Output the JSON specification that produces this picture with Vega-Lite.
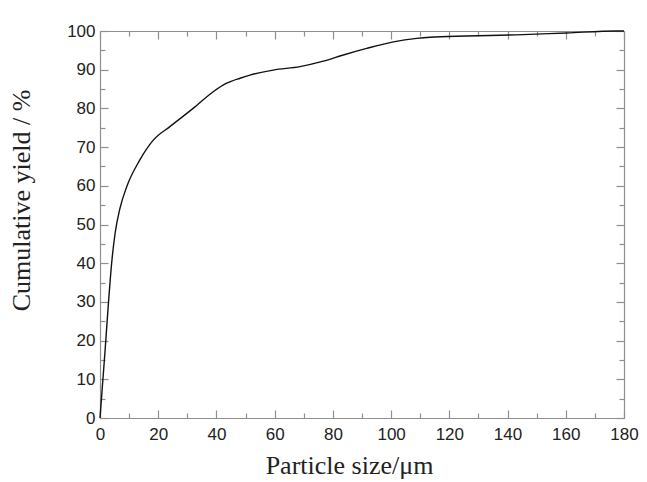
{
  "$schema": "https://vega.github.io/schema/vega-lite/v6.json",
  "width": 524,
  "height": 387,
  "autosize": {"type": "none"},
  "padding": {"left": 100, "top": 31, "right": 23, "bottom": 64},
  "background": "white",
  "config": {
    "view": {"stroke": null},
    "axis": {
      "domainColor": "#8f8f8f",
      "domainWidth": 1.2,
      "tickColor": "#8f8f8f",
      "tickWidth": 1.2,
      "grid": false,
      "labelFont": "Liberation Sans",
      "labelFontSize": 17,
      "labelColor": "#222222",
      "titleFont": "Liberation Serif",
      "titleFontSize": 26,
      "titleFontWeight": "normal",
      "titleColor": "#222222"
    }
  },
  "data": {
    "values": [
      {"size": 0, "yield": 0},
      {"size": 0.8, "yield": 8},
      {"size": 1.7, "yield": 17},
      {"size": 2.9, "yield": 29.7},
      {"size": 4.0, "yield": 40},
      {"size": 5.2, "yield": 47.8},
      {"size": 6.9, "yield": 54.3},
      {"size": 9.2, "yield": 59.8},
      {"size": 13.7, "yield": 66.7},
      {"size": 18.3, "yield": 71.8},
      {"size": 24, "yield": 75.3},
      {"size": 32, "yield": 80},
      {"size": 38.9, "yield": 84.3},
      {"size": 43.5, "yield": 86.5},
      {"size": 48.1, "yield": 87.8},
      {"size": 51.5, "yield": 88.6},
      {"size": 59.5, "yield": 89.9},
      {"size": 68.7, "yield": 90.8},
      {"size": 76.7, "yield": 92.2},
      {"size": 83.6, "yield": 93.8},
      {"size": 91.6, "yield": 95.5},
      {"size": 100.8, "yield": 97.2},
      {"size": 108.8, "yield": 98.1},
      {"size": 113.4, "yield": 98.4},
      {"size": 126, "yield": 98.7},
      {"size": 143, "yield": 99},
      {"size": 160.3, "yield": 99.5},
      {"size": 177.5, "yield": 100},
      {"size": 180, "yield": 100}
    ]
  },
  "layer": [
    {
      "mark": {"type": "line", "color": "#111111", "strokeWidth": 1.4, "interpolate": "monotone", "clip": false},
      "encoding": {
        "x": {
          "field": "size", "type": "quantitative",
          "scale": {"domain": [0, 180], "nice": false, "zero": false},
          "axis": {
            "orient": "bottom",
            "title": "Particle size/μm",
            "titleX": 249,
            "values": [0, 10, 20, 30, 40, 50, 60, 70, 80, 90, 100, 110, 120, 130, 140, 150, 160, 170, 180],
            "labelExpr": "datum.value % 20 === 0 ? datum.label : ''",
            "tickSize": {"condition": {"test": "datum.value % 20 === 0", "value": -8}, "value": -5},
            "labelPadding": 16,
            "labelFlush": false,
            "labelOverlap": false,
            "titlePadding": 7
          }
        },
        "y": {
          "field": "yield", "type": "quantitative",
          "scale": {"domain": [0, 100], "nice": false, "zero": false},
          "axis": {
            "orient": "left",
            "title": "Cumulative yield / %",
            "titleY": 169,
            "values": [0, 5, 10, 15, 20, 25, 30, 35, 40, 45, 50, 55, 60, 65, 70, 75, 80, 85, 90, 95, 100],
            "labelExpr": "datum.value % 10 === 0 ? datum.label : ''",
            "tickSize": {"condition": {"test": "datum.value % 10 === 0", "value": -8}, "value": -5},
            "labelPadding": 13,
            "labelFlush": false,
            "labelOverlap": false,
            "titlePadding": 32
          }
        }
      }
    },
    {
      "mark": {"type": "line", "opacity": 0},
      "encoding": {
        "x": {
          "field": "size", "type": "quantitative",
          "scale": {"domain": [0, 180], "nice": false, "zero": false},
          "axis": {
            "orient": "top",
            "title": null,
            "labels": false,
            "values": [0, 10, 20, 30, 40, 50, 60, 70, 80, 90, 100, 110, 120, 130, 140, 150, 160, 170, 180],
            "tickSize": {"condition": {"test": "datum.value % 20 === 0", "value": -8}, "value": -5}
          }
        },
        "y": {
          "field": "yield", "type": "quantitative",
          "scale": {"domain": [0, 100], "nice": false, "zero": false},
          "axis": {
            "orient": "right",
            "title": null,
            "labels": false,
            "values": [0, 5, 10, 15, 20, 25, 30, 35, 40, 45, 50, 55, 60, 65, 70, 75, 80, 85, 90, 95, 100],
            "tickSize": {"condition": {"test": "datum.value % 10 === 0", "value": -8}, "value": -5}
          }
        }
      }
    }
  ],
  "resolve": {"axis": {"x": "independent", "y": "independent"}}
}
